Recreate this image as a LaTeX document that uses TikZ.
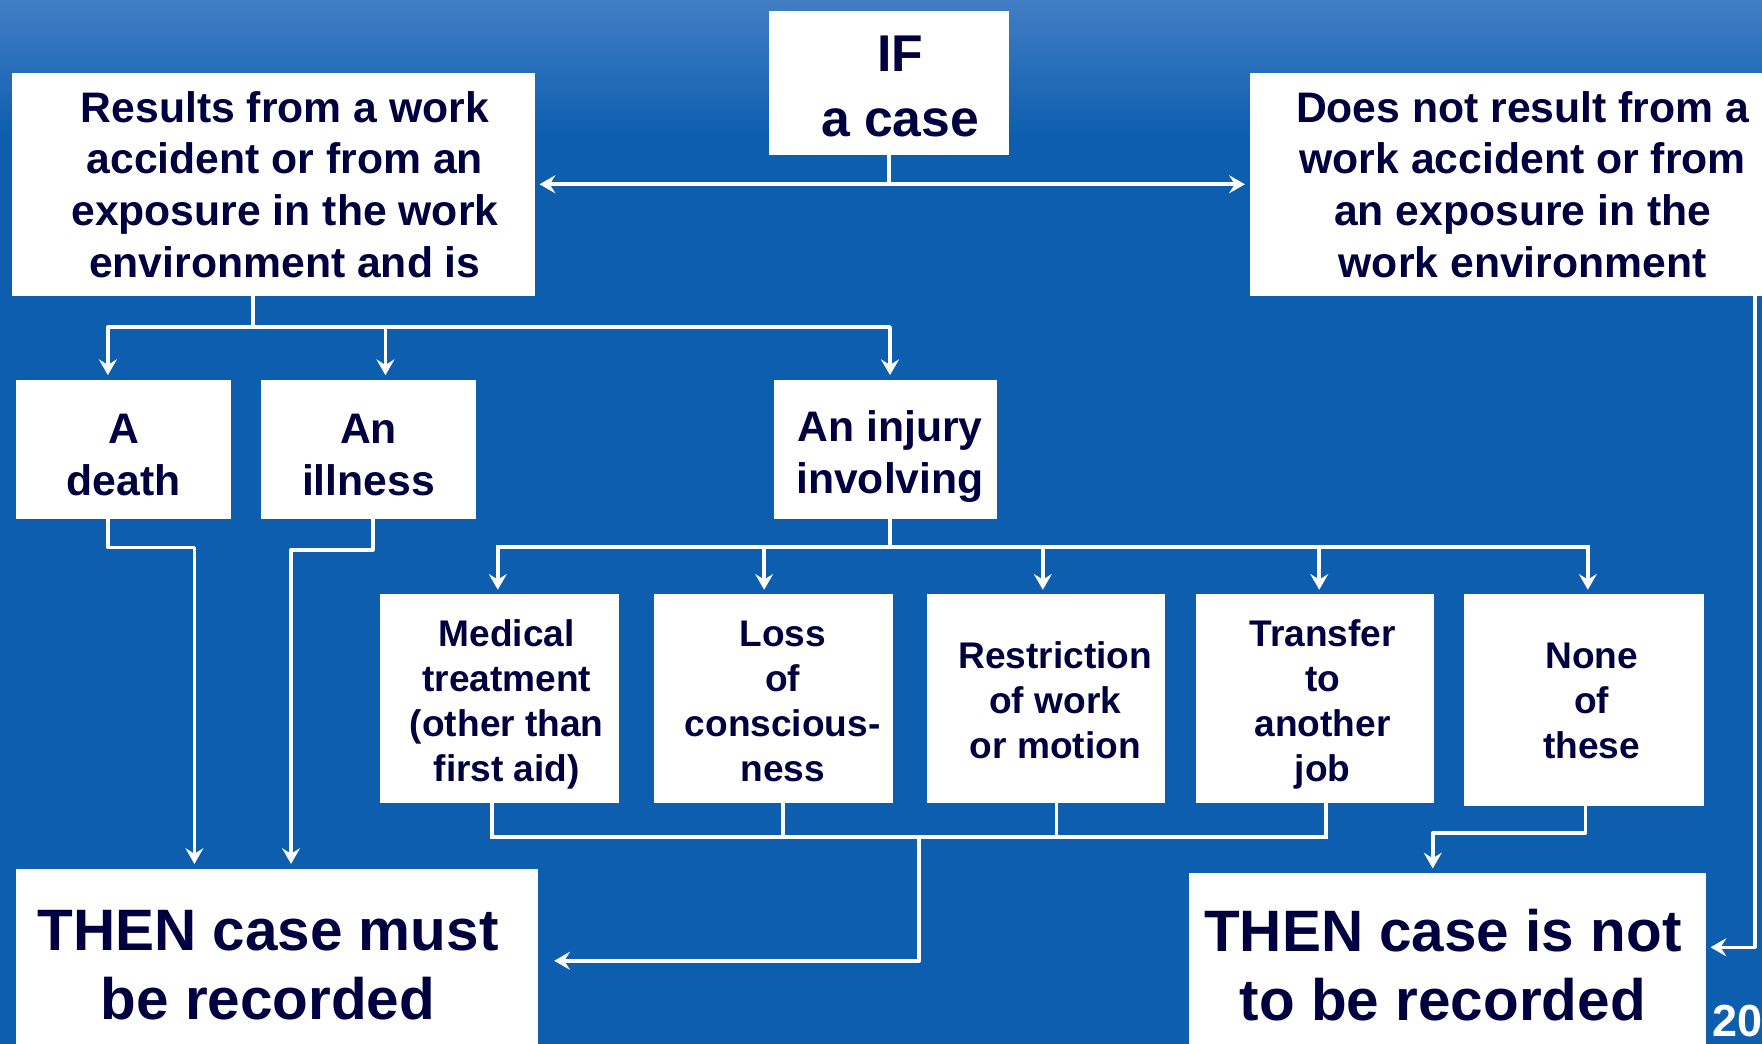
\documentclass[tikz,border=0pt]{standalone}
\usepackage{fontspec}
\setmainfont{Liberation Sans}
\usepackage{tikz}
\usetikzlibrary{arrows.meta}

\definecolor{bgblue}{RGB}{13,94,175}
\definecolor{skyblue}{RGB}{66,126,196}
\definecolor{navy}{RGB}{0,0,64}

\tikzset{
    box/.style={fill=white, inner sep=0pt},
    txt/.style={inner sep=0pt, align=center, text=navy,
        font=\bfseries\fontsize{38}{46}\selectfont},
    small/.style={font=\bfseries\fontsize{33}{40}\selectfont},
    big/.style={font=\bfseries\fontsize{52}{61}\selectfont},
    line/.style={draw=white, line width=3.2pt, line cap=rect, line join=round},
    arr/.style={line, shorten >=4pt, -{Stealth[length=14pt,width=16pt,inset=5pt]}},
    arrs/.style={arr, shorten <=4pt, {Stealth[length=14pt,width=16pt,inset=5pt]}-{Stealth[length=14pt,width=16pt,inset=5pt]}},
}

\begin{document}
\begin{tikzpicture}[x=1pt, y=-1pt]

    \useasboundingbox (0,0) rectangle (1568,929);
    \clip (0,0) rectangle (1568,929);
    \fill[bgblue] (0,0) rectangle (1568,929);
    \shade[top color=skyblue, bottom color=bgblue] (0,0) rectangle (1568,120);

    % first row
    \node[box, minimum width=214pt, minimum height=128pt] (ifc) at (791,74) {};
    \node[txt, font=\bfseries\fontsize{46}{58}\selectfont] (ifcT) at ([shift={(10,3)}]ifc) {IF\\a case};
    \node[box, minimum width=465pt, minimum height=198pt] (topL) at (243.5,164) {};
    \node[txt] (topLT) at ([shift={(10,0)}]topL)
        {Results from a work\\accident or from an\\exposure in the work\\environment and is};
    \node[box, minimum width=486pt, minimum height=198pt] (topR) at (1355,164) {};
    \node[txt] (topRT) at (topR)
        {Does not result from a\\work accident or from\\an exposure in the\\work environment};

    \draw[line] (ifc) -- (ifc |- topL);
    \draw[arrs] (topL) -- (topR);

    % second row
    \node[box, minimum width=192pt, minimum height=124pt] (death) at (110,400) {};
    \node[txt] (deathT) at ([shift={(0,5)}]death) {A\\death};
    \node[box, minimum width=192pt, minimum height=124pt] (ill) at (328,400) {};
    \node[txt] (illT) at ([shift={(0,5)}]ill) {An\\illness};
    \node[box, minimum width=198pt, minimum height=124pt] (injury) at (788,400) {};
    \node[txt] (injuryT) at ([shift={(4,6)}]injury) {An injury\\involving};

    \coordinate (bus1) at (0,291);
    \draw[arr] ([xshift=-18.5pt]topL.south) |- ([xshift=4pt]injury.north |- bus1) -- ([xshift=4pt]injury.north);
    \draw[arr] ([xshift=-18.5pt]topL.south |- bus1) -| ([xshift=-14pt]death.north);
    \draw[arr] ([xshift=15pt]ill.north |- bus1) -- ([xshift=15pt]ill.north);

    % third row
    \node[box, minimum width=213pt, minimum height=186pt] (med) at (444.5,622) {};
    \node[txt, small] (medT) at ([shift={(6.5,4.5)}]med) {Medical\\treatment\\(other than\\first aid)};
    \node[box, minimum width=213pt, minimum height=186pt] (loss) at (688.5,622) {};
    \node[txt, small] (lossT) at ([shift={(8,2)}]loss) {Loss\\of\\conscious-\\ness};
    \node[box, minimum width=212pt, minimum height=186pt] (restr) at (931,622) {};
    \node[txt, small] (restrT) at ([shift={(8,1)}]restr) {Restriction\\of work\\or motion};
    \node[box, minimum width=212pt, minimum height=186pt] (trans) at (1170,622) {};
    \node[txt, small] (transT) at ([shift={(7,5)}]trans) {Transfer\\to\\another\\job};
    \node[box, minimum width=213pt, minimum height=188pt] (none) at (1409.5,623) {};
    \node[txt, small] (noneT) at ([shift={(7,1)}]none) {None\\of\\these};

    \coordinate (bus2) at (0,487);
    \draw[line] ([xshift=4pt]injury.south) -- ([xshift=4pt]injury.south |- bus2);
    \draw[line] ([xshift=-1.5pt]med.north |- bus2) -- ([xshift=3.5pt]none.north |- bus2);
    \foreach \n/\dx in {med/-1.5, loss/-8.5, restr/-3, trans/4, none/3.5}
        \draw[arr] ([xshift=\dx pt]\n.north |- bus2) -- ([xshift=\dx pt]\n.north);

    % last row
    \node[box, minimum width=465pt, minimum height=172pt] (must) at (246.5,859) {};
    \node[txt, big] (mustT) at ([shift={(-8,0)}]must) {THEN case must\\be recorded};
    \node[box, minimum width=460pt, minimum height=168pt] (not) at (1288,861) {};
    \node[txt, big] (notT) at ([shift={(-4,-2)}]not) {THEN case is not\\to be recorded};
    \node[text=white, font=\bfseries\fontsize{40}{40}\selectfont] (pg) at (1546,909) {20};

    \draw[arr] ([xshift=-14pt]death.south) -- ++(0,25) -| ([xshift=-73.5pt]must.north);
    \draw[arr] ([xshift=4pt]ill.south) -- ++(0,27) -| ([xshift=12.5pt]must.north);

    \coordinate (bus3) at (0,745);
    \foreach \n/\dx in {med/-6.5, loss/8.5, restr/9, trans/10}
        \draw[line] ([xshift=\dx pt]\n.south) -- ([xshift=\dx pt]\n.south |- bus3);
    \draw[line] ([xshift=-6.5pt]med.south |- bus3) -- ([xshift=10pt]trans.south |- bus3);
    \coordinate (drop) at (818,745);
    \draw[arr, shorten >=14pt] (drop) |- ([yshift=4pt]must.east);

    \draw[arr] ([xshift=1.5pt]none.south) -- ++(0,24) -| ([xshift=-13pt]not.north);
    \draw[arr] ([xshift=207pt]topR.south) |- ([yshift=18pt]not.east);

\end{tikzpicture}
\end{document}
